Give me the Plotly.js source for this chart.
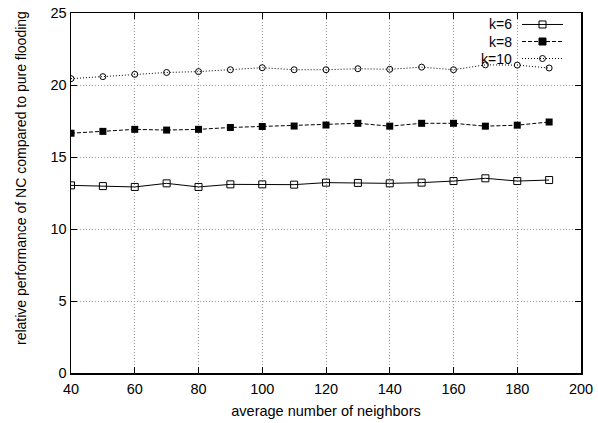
<!DOCTYPE html>
<html>
<head>
<meta charset="utf-8">
<script src="https://cdn.plot.ly/plotly-3.0.1.min.js"></script>
<style>html,body{margin:0;padding:0;background:#fff}#chart{width:598px;height:423px}</style>
</head>
<body>
<div id="chart"></div>
<script>
const neighbors = [40, 50, 60, 70, 80, 90, 100, 110, 120, 130, 140, 150, 160, 170, 180, 190];
const k6  = [13.03, 12.98, 12.92, 13.17, 12.92, 13.10, 13.10, 13.08, 13.22, 13.20, 13.17, 13.22, 13.33, 13.52, 13.33, 13.40];
const k8  = [16.65, 16.78, 16.92, 16.87, 16.92, 17.05, 17.12, 17.15, 17.22, 17.34, 17.14, 17.34, 17.34, 17.14, 17.21, 17.43];
const k10 = [20.44, 20.58, 20.74, 20.87, 20.93, 21.06, 21.20, 21.06, 21.06, 21.13, 21.09, 21.24, 21.06, 21.40, 21.38, 21.18];
const seriesNames = ['k=6', 'k=8', 'k=10'];
const xTitle = 'average number of neighbors';
const yTitle = 'relative performance of NC compared to pure flooding';

const FONT = 'Liberation Sans, Arial, Helvetica, sans-serif';
const styles = [
  {dash: 'solid',   symbol: 'square-open', size: 7, shape: 'rect',   half: 3.5, fill: 'rgba(0,0,0,0)'},
  {dash: '4px,2px', symbol: 'square',      size: 7, shape: 'rect',   half: 3.5, fill: '#000'},
  {dash: '1px,2px', symbol: 'circle-open', size: 6, shape: 'circle', half: 3,   fill: 'rgba(0,0,0,0)'}
];
const seriesValues = [k6, k8, k10];

const traces = seriesValues.map((vals, i) => ({
  x: neighbors, y: vals, name: seriesNames[i], mode: 'lines+markers', showlegend: false,
  line: {color: '#000', width: 1, dash: styles[i].dash},
  marker: {symbol: styles[i].symbol, size: styles[i].size, color: '#000',
           line: {width: i === 1 ? 0 : 1, color: '#000'}}
}));

// key (legend) placed in paper coordinates, gnuplot-style: label then sample
const keyRows = [0.9681, 0.9208, 0.8736];
const keyTextX = 0.8667, keyLineX0 = 0.8843, keyLineX1 = 0.9647, keyMarkX = 0.9245;
const shapes = [];
const annotations = [];
seriesNames.forEach((n, i) => {
  const s = styles[i];
  annotations.push({text: n, xref: 'paper', yref: 'paper', x: keyTextX, y: keyRows[i],
    xanchor: 'right', yanchor: 'middle', showarrow: false, borderpad: 0,
    font: {family: FONT, size: 14, color: '#000'}});
  shapes.push({type: 'line', xref: 'paper', yref: 'paper', x0: keyLineX0, x1: keyLineX1,
    y0: keyRows[i], y1: keyRows[i], line: {color: '#000', width: 1, dash: s.dash}});
  shapes.push({type: s.shape, xref: 'paper', yref: 'paper',
    xsizemode: 'pixel', ysizemode: 'pixel', xanchor: keyMarkX, yanchor: keyRows[i],
    x0: -s.half, x1: s.half, y0: -s.half, y1: s.half,
    fillcolor: s.fill, line: {color: '#000', width: 1}});
});
annotations.push({text: yTitle, xref: 'paper', yref: 'paper', x: 0, y: 0.5417, xshift: -50,
  xanchor: 'center', yanchor: 'middle', textangle: -90, showarrow: false,
  font: {family: FONT, size: 14, color: '#000'}});

const axisCommon = {
  showline: true, linecolor: '#000', linewidth: 1.5, mirror: 'ticks',
  ticks: 'inside', ticklen: 6, tickwidth: 1, tickcolor: '#000',
  showgrid: true, gridcolor: '#999', griddash: '1px,2px', gridwidth: 1,
  zeroline: false, tickfont: {family: FONT, size: 14.5, color: '#000'}
};

const layout = {
  width: 598, height: 423,
  margin: {l: 71, r: 17, t: 13, b: 50},
  paper_bgcolor: '#fff', plot_bgcolor: '#fff',
  showlegend: false,
  xaxis: Object.assign({}, axisCommon, {range: [40, 200], dtick: 20, tick0: 40, ticklabelstandoff: 2,
    title: {text: xTitle, font: {family: FONT, size: 14.5, color: '#000'}, standoff: 10}}),
  yaxis: Object.assign({}, axisCommon, {range: [0, 25], dtick: 5, tick0: 0}),
  shapes: shapes,
  annotations: annotations
};

Plotly.newPlot('chart', traces, layout, {staticPlot: true, displayModeBar: false});
</script>
</body>
</html>
